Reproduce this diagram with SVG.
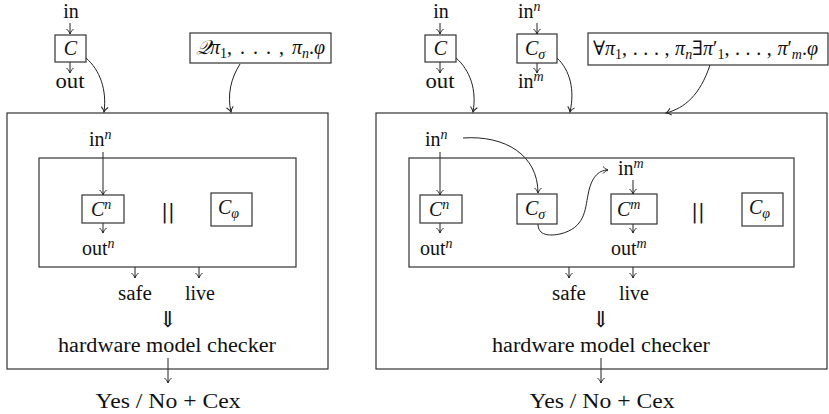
<svg xmlns="http://www.w3.org/2000/svg" width="829" height="414" viewBox="0 0 829 414">
<style>
text{font-family:"Liberation Serif","DejaVu Serif",serif;font-size:20px;fill:#111}
.m{font-style:italic}
.c{text-anchor:middle}
.s{font-size:14px}
.box{fill:none;stroke:#333;stroke-width:1.2}
.ln{fill:none;stroke:#222;stroke-width:1}
.dbl{font-family:"DejaVu Serif",serif;font-size:22px}
.par{font-family:"DejaVu Serif",serif;font-size:20px}
</style>
<defs>
<marker id="arr" markerWidth="10" markerHeight="10" viewBox="-6 -5 7 10" refX="0" refY="0" orient="auto" markerUnits="userSpaceOnUse">
<path d="M-5,-3.5 C-3,-1.2 -1,-0.3 0,0 C-1,0.3 -3,1.2 -5,3.5" fill="none" stroke="#222" stroke-width="1"/>
</marker>
</defs>

<g id="connectors">
<!-- left panel -->
<line class="ln" x1="70" y1="23" x2="70" y2="34" marker-end="url(#arr)"/>
<line class="ln" x1="70" y1="62" x2="70" y2="73" marker-end="url(#arr)"/>
<path class="ln" d="M86,58 C100,70 107,90 104,112" marker-end="url(#arr)"/>
<path class="ln" d="M240,64 C231,78 227,95 231,112" marker-end="url(#arr)"/>
<line class="ln" x1="103" y1="152" x2="103" y2="195" marker-end="url(#arr)"/>
<line class="ln" x1="103" y1="223" x2="103" y2="233" marker-end="url(#arr)"/>
<line class="ln" x1="135" y1="267" x2="135" y2="278" marker-end="url(#arr)"/>
<line class="ln" x1="199" y1="267" x2="199" y2="278" marker-end="url(#arr)"/>
<line class="ln" x1="168" y1="358" x2="168" y2="383" marker-end="url(#arr)"/>
<!-- right panel -->
<line class="ln" x1="440" y1="23" x2="440" y2="34" marker-end="url(#arr)"/>
<line class="ln" x1="440" y1="62" x2="440" y2="73" marker-end="url(#arr)"/>
<path class="ln" d="M456,58 C470,70 477,90 473,112" marker-end="url(#arr)"/>
<line class="ln" x1="537" y1="23" x2="537" y2="34" marker-end="url(#arr)"/>
<line class="ln" x1="537" y1="63" x2="537" y2="73" marker-end="url(#arr)"/>
<path class="ln" d="M557,58 C570,70 575,90 570,112" marker-end="url(#arr)"/>
<path class="ln" d="M710,65 C700,95 685,108 666,113" marker-end="url(#arr)"/>
<line class="ln" x1="440" y1="152" x2="440" y2="195" marker-end="url(#arr)"/>
<line class="ln" x1="440" y1="223" x2="440" y2="233" marker-end="url(#arr)"/>
<path class="ln" d="M463,138 C505,135 538,155 538,193" marker-end="url(#arr)"/>
<path class="ln" d="M538,224 C538,236 550,236 560,234 C585,228 585,210 588,195 C591,178 598,170 608,170" marker-end="url(#arr)"/>
<line class="ln" x1="633" y1="180" x2="633" y2="194" marker-end="url(#arr)"/>
<line class="ln" x1="633" y1="224" x2="633" y2="233" marker-end="url(#arr)"/>
<line class="ln" x1="569" y1="267" x2="569" y2="278" marker-end="url(#arr)"/>
<line class="ln" x1="633" y1="267" x2="633" y2="278" marker-end="url(#arr)"/>
<line class="ln" x1="601" y1="358" x2="601" y2="383" marker-end="url(#arr)"/>
</g>

<!-- LEFT PANEL -->
<g id="L-in"><text class="c" x="71" y="18">in</text></g>
<g id="L-C"><rect class="box" x="55" y="35" width="31" height="27"/><text class="m c" x="70.5" y="55">C</text></g>
<g id="L-out"><text class="c" x="70" y="88" textLength="29" lengthAdjust="spacingAndGlyphs">out</text></g>
<g id="L-formula"><rect class="box" x="190" y="33" width="141" height="30"/>
<text x="196" y="54"><tspan class="m">𝒬π</tspan><tspan class="s" dy="4">1</tspan><tspan dy="-4" letter-spacing="1.5">, . . . , </tspan><tspan class="m">π</tspan><tspan class="s m" dy="4">n</tspan><tspan dy="-4">.</tspan><tspan class="m">φ</tspan></text></g>
<g id="L-outer"><rect class="box" x="7" y="113" width="321" height="256"/></g>
<g id="L-inner"><rect class="box" x="39" y="158" width="257" height="109"/></g>
<g id="L-inn"><text x="89" y="146">in<tspan class="s m" dy="-7">n</tspan></text></g>
<g id="L-Cn"><rect class="box" x="82" y="195" width="42" height="28"/><text x="91" y="216"><tspan class="m">C</tspan><tspan class="s m" dy="-7">n</tspan></text></g>
<g id="L-outn"><text x="82" y="255">out<tspan class="s m" dy="-7">n</tspan></text></g>
<g id="L-par"><text class="c par" x="168" y="218">||</text></g>
<g id="L-Cphi"><rect class="box" x="211" y="193" width="41" height="33"/><text x="218" y="214"><tspan class="m">C</tspan><tspan class="s m" dy="4">φ</tspan></text></g>
<g id="L-safe"><text class="c" x="135" y="300" textLength="34" lengthAdjust="spacingAndGlyphs">safe</text></g>
<g id="L-live"><text class="c" x="200" y="300" textLength="30" lengthAdjust="spacingAndGlyphs">live</text></g>
<g id="L-impl"><text class="c dbl" x="168" y="327">⇓</text></g>
<g id="L-hmc"><text class="c" x="167" y="352" textLength="218" lengthAdjust="spacingAndGlyphs">hardware model checker</text></g>
<g id="L-result"><text class="c" x="168" y="408" textLength="145" lengthAdjust="spacingAndGlyphs">Yes / No + Cex</text></g>

<!-- RIGHT PANEL -->
<g id="R-in"><text class="c" x="441" y="18">in</text></g>
<g id="R-C"><rect class="box" x="425" y="35" width="31" height="27"/><text class="m c" x="440.5" y="55">C</text></g>
<g id="R-out"><text class="c" x="440" y="88" textLength="29" lengthAdjust="spacingAndGlyphs">out</text></g>
<g id="R-inn-top"><text x="518" y="18">in<tspan class="s m" dy="-7">n</tspan></text></g>
<g id="R-Csigma-top"><rect class="box" x="517" y="34" width="40" height="29"/><text x="525" y="55"><tspan class="m">C</tspan><tspan class="s m" dy="4">σ</tspan></text></g>
<g id="R-inm-top"><text x="518" y="88">in<tspan class="s m" dy="-7">m</tspan></text></g>
<g id="R-formula"><rect class="box" x="588" y="33" width="240" height="32"/>
<text x="593" y="55"><tspan>∀</tspan><tspan class="m">π</tspan><tspan class="s" dy="4">1</tspan><tspan dy="-4" letter-spacing="0.3">, . . . , </tspan><tspan class="m">π</tspan><tspan class="s m" dy="4">n</tspan><tspan dy="-4">∃</tspan><tspan class="m">π</tspan><tspan>′</tspan><tspan class="s" dy="4">1</tspan><tspan dy="-4" letter-spacing="0.3">, . . . , </tspan><tspan class="m">π</tspan><tspan>′</tspan><tspan class="s m" dy="4">m</tspan><tspan dy="-4">.</tspan><tspan class="m">φ</tspan></text></g>
<g id="R-outer"><rect class="box" x="376" y="113" width="451" height="256"/></g>
<g id="R-inner"><rect class="box" x="409" y="158" width="385" height="109"/></g>
<g id="R-inn"><text x="425" y="146">in<tspan class="s m" dy="-7">n</tspan></text></g>
<g id="R-Cn"><rect class="box" x="420" y="195" width="42" height="28"/><text x="429" y="216"><tspan class="m">C</tspan><tspan class="s m" dy="-7">n</tspan></text></g>
<g id="R-outn"><text x="420" y="255">out<tspan class="s m" dy="-7">n</tspan></text></g>
<g id="R-Csigma"><rect class="box" x="517" y="194" width="40" height="30"/><text x="525" y="215"><tspan class="m">C</tspan><tspan class="s m" dy="4">σ</tspan></text></g>
<g id="R-inm"><text x="618" y="175">in<tspan class="s m" dy="-7">m</tspan></text></g>
<g id="R-Cm"><rect class="box" x="611" y="194" width="46" height="30"/><text x="617" y="216"><tspan class="m">C</tspan><tspan class="s m" dy="-7">m</tspan></text></g>
<g id="R-outm"><text x="611" y="255">out<tspan class="s m" dy="-7">m</tspan></text></g>
<g id="R-par"><text class="c par" x="698" y="218">||</text></g>
<g id="R-Cphi"><rect class="box" x="742" y="193" width="41" height="33"/><text x="749" y="214"><tspan class="m">C</tspan><tspan class="s m" dy="4">φ</tspan></text></g>
<g id="R-safe"><text class="c" x="569" y="300" textLength="34" lengthAdjust="spacingAndGlyphs">safe</text></g>
<g id="R-live"><text class="c" x="634" y="300" textLength="30" lengthAdjust="spacingAndGlyphs">live</text></g>
<g id="R-impl"><text class="c dbl" x="601" y="327">⇓</text></g>
<g id="R-hmc"><text class="c" x="601" y="352" textLength="218" lengthAdjust="spacingAndGlyphs">hardware model checker</text></g>
<g id="R-result"><text class="c" x="602" y="408" textLength="145" lengthAdjust="spacingAndGlyphs">Yes / No + Cex</text></g>
</svg>
